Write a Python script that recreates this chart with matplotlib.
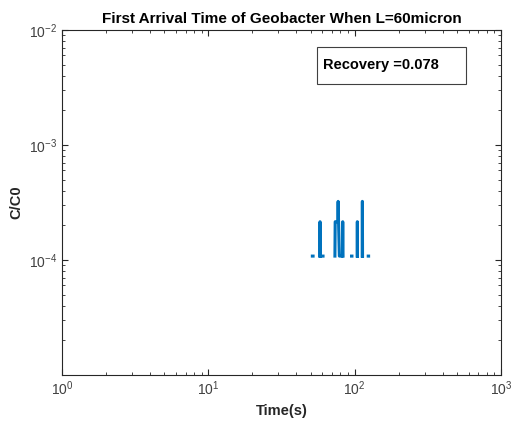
import numpy as np
import matplotlib.pyplot as plt
from matplotlib.patches import Rectangle

nan = np.nan

# arrival times (s) and normalised concentration, NaN breaks the line
time_s = [51.4, 52.0, nan,
          57.8, 58.0, 58.2, nan,
          60.2, 60.8, nan,
          73.3, 73.6, 74.6, 75.6, 76.6, 77.1, 77.6, 78.6, 79.4, 82.5, 82.9, 83.3, nan,
          95.2, 95.8, nan,
          104.1, 104.3, 104.5, nan,
          112.6, 112.9, 113.2, nan,
          123.8, 124.5]
c_c0 = [1.08e-4, 1.08e-4, nan,
        1.08e-4, 2.15e-4, 1.08e-4, nan,
        1.08e-4, 1.08e-4, nan,
        1.08e-4, 2.15e-4, 2.15e-4, 2.15e-4, 2.15e-4, 3.23e-4, 2.15e-4, 1.08e-4, 1.08e-4, 1.08e-4, 2.15e-4, 1.08e-4, nan,
        1.08e-4, 1.08e-4, nan,
        1.08e-4, 2.15e-4, 1.08e-4, nan,
        1.08e-4, 3.23e-4, 1.08e-4, nan,
        1.08e-4, 1.08e-4]
recovery = 0.078

plt.rcParams['font.family'] = ['Liberation Sans', 'DejaVu Sans']
plt.rcParams['mathtext.fontset'] = 'custom'
plt.rcParams['mathtext.rm'] = 'Liberation Sans'
plt.rcParams['axes.unicode_minus'] = False

fig = plt.figure(figsize=(5.16, 4.28), dpi=100)
ax = fig.add_axes([0.120, 0.124, 0.851, 0.806])

ax.plot(time_s, c_c0, color='#0072BD', linewidth=2.2)
ax.set_xscale('log')
ax.set_yscale('log')
ax.set_xlim(1, 1e3)
ax.set_ylim(1e-5, 1e-2)
ax.set_yticks([1e-4, 1e-3, 1e-2])

grey = '#262626'
for s in ax.spines.values():
    s.set_color(grey)
    s.set_linewidth(0.8)
ax.tick_params(which='both', direction='in', top=True, right=True, colors=grey,
               labelcolor='#404040', labelsize=10)
ax.tick_params(which='major', length=4)
ax.tick_params(which='minor', length=2)

ax.set_title('First Arrival Time of Geobacter When L=60micron', fontsize=11,
             fontweight='bold', pad=5)
ax.set_xlabel('Time(s)', fontsize=10.5, fontweight='bold', color=grey)
ax.set_ylabel('C/C0', fontsize=10.5, fontweight='bold', color=grey, labelpad=4)

ax.add_patch(Rectangle((0.581, 0.843), 0.339, 0.108, transform=ax.transAxes,
                       fill=False, edgecolor='#404040', linewidth=0.8))
ax.text(0.595, 0.897, 'Recovery =%.3f' % recovery, transform=ax.transAxes,
        fontsize=10.5, fontweight='bold', va='center', ha='left')

fig.savefig('out.png', dpi=100)
